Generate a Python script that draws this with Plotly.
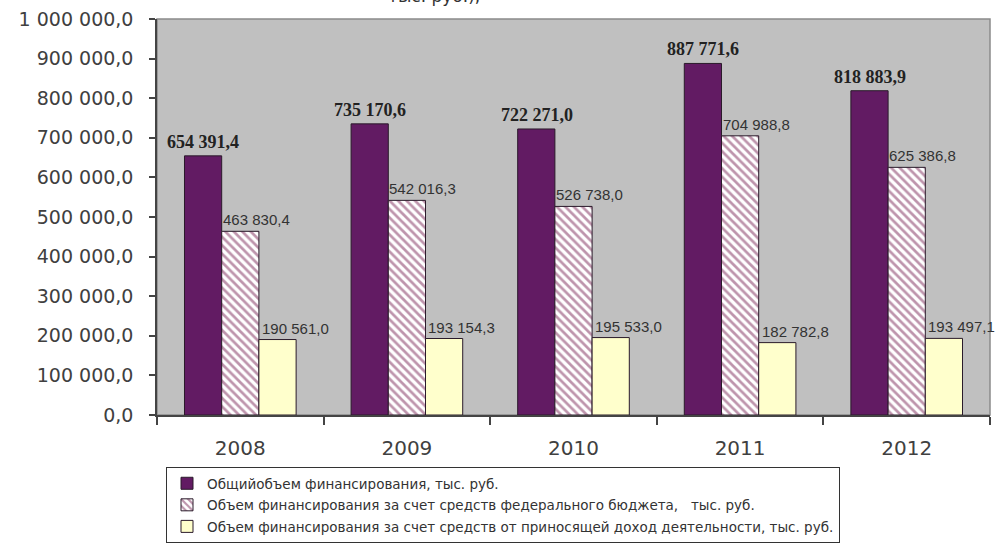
import plotly.graph_objects as go

years = ["2008", "2009", "2010", "2011", "2012"]
total = [654391.4, 735170.6, 722271.0, 887771.6, 818883.9]
federal = [463830.4, 542016.3, 526738.0, 704988.8, 625386.8]
income = [190561.0, 193154.3, 195533.0, 182782.8, 193497.1]

names = [
    "Общийобъем финансирования, тыс. руб.",
    "Объем финансирования за счет средств федерального бюджета,   тыс. руб.",
    "Объем финансирования за счет средств от приносящей доход деятельности, тыс. руб.",
]

yticks = [0, 100000, 200000, 300000, 400000, 500000, 600000, 700000, 800000, 900000, 1000000]


def fmt(v):
    s = f"{v:,.1f}"
    return s.replace(",", " ").replace(".", ",")


W, H = 1001, 544
ML, MR, MT, MB = 157, 11, 19, 129
PW, PH = W - ML - MR, H - MT - MB

fig = go.Figure()
fig.add_trace(go.Bar(
    x=years, y=total, name=names[0], legendgroup="a",
    marker=dict(color="#621B63", line=dict(color="#2a1a2a", width=1)),
))
fig.add_trace(go.Bar(
    x=years, y=federal, name=names[1], legendgroup="b",
    marker=dict(color="#ffffff", line=dict(color="#2a1a2a", width=1),
                pattern=dict(shape="\\", fgcolor="#7d2a5a", bgcolor="#ffffff",
                             size=6, solidity=0.45)),
))
fig.add_trace(go.Bar(
    x=years, y=income, name=names[2], legendgroup="c",
    marker=dict(color="#FFFFCC", line=dict(color="#2a1a2a", width=1)),
))

annotations = []
for i, yr in enumerate(years):
    annotations.append(dict(
        x=i, y=total[i], xref="x", yref="y", text="<b>" + fmt(total[i]) + "</b>",
        showarrow=False, xshift=-37, yshift=2, yanchor="bottom",
        font=dict(family="Liberation Serif", size=18, color="#222222"),
    ))
    annotations.append(dict(
        x=i, y=federal[i], xref="x", yref="y", text=fmt(federal[i]),
        showarrow=False, xshift=16, yshift=1, yanchor="bottom",
        font=dict(family="Liberation Sans", size=15, color="#333333"),
    ))
    annotations.append(dict(
        x=i, y=income[i], xref="x", yref="y", text=fmt(income[i]),
        showarrow=False, xshift=55, yshift=1, yanchor="bottom",
        font=dict(family="Liberation Sans", size=15, color="#333333"),
    ))

# cut-off title fragment at the very top
annotations.append(dict(
    x=(482 - ML) / PW, y=(H - MB - 8) / PH,
    xref="paper", yref="paper", xanchor="right", yanchor="bottom",
    text="тыс. руб.),", showarrow=False,
    font=dict(family="DejaVu Sans", size=17, color="#333333"),
))

fig.update_layout(
    width=W, height=H,
    margin=dict(l=ML, r=MR, t=MT, b=MB, autoexpand=False),
    paper_bgcolor="#ffffff",
    plot_bgcolor="#C0C0C0",
    barmode="group",
    bargap=0.33,
    bargroupgap=0,
    showlegend=True,
    legend=dict(
        x=(166 - ML) / PW, y=(H - MB - 467) / PH,
        xanchor="left", yanchor="top",
        orientation="v",
        bgcolor="#ffffff", bordercolor="#333333", borderwidth=1,
        font=dict(family="DejaVu Sans", size=13.5, color="#333333"),
        itemwidth=30,
        tracegroupgap=1,
    ),
    annotations=annotations,
    shapes=[dict(type="rect", xref="paper", yref="paper", x0=0, x1=1, y0=0, y1=1,
                 line=dict(color="#8a8a8a", width=1.5), layer="below")],
)

fig.update_xaxes(
    type="category", range=[-0.5, len(years) - 0.5], autorange=False,
    showline=True, linecolor="#444444", linewidth=1.5,
    ticks="outside", tickson="boundaries", ticklen=8, tickcolor="#444444", tickwidth=1.5,
    tickfont=dict(family="DejaVu Sans", size=20, color="#404040"),
    ticklabelstandoff=14,
    showgrid=False, zeroline=False,
)
fig.update_yaxes(
    range=[0, 1000000], autorange=False,
    tickvals=yticks, ticktext=[fmt(v) for v in yticks],
    showline=True, linecolor="#444444", linewidth=1.5,
    ticks="outside", ticklen=6, tickcolor="#444444", tickwidth=1.5,
    tickfont=dict(family="DejaVu Sans", size=19, color="#404040"),
    ticklabelstandoff=12,
    showgrid=False, zeroline=False,
)

fig.write_html(
    "out.html",
    config={"displayModeBar": False},
    post_script="document.body.style.margin='0';document.body.style.overflow='hidden';",
)
